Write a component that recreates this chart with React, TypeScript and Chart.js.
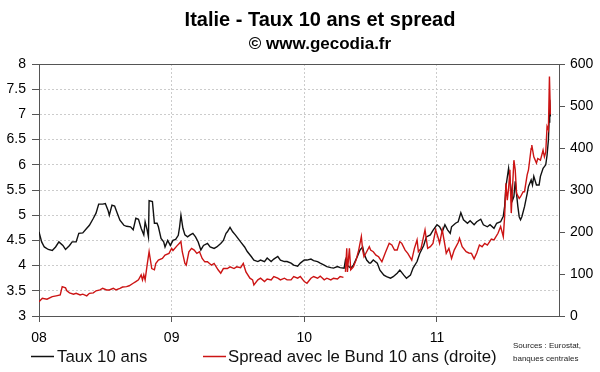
import React, { useEffect, useRef } from 'react';
import { Chart, registerables } from 'chart.js';

Chart.register(...registerables);

const FONT = '"Liberation Sans", Arial, Helvetica, sans-serif';

const titleText = 'Italie - Taux 10 ans et spread';
const subtitleText = '© www.gecodia.fr';
const yearLabels = ['08', '09', '10', '11'];
const legendLabels = ['Taux 10 ans', 'Spread avec le Bund 10 ans (droite)'];
const sourcesLines = ['Sources : Eurostat,', 'banques centrales'];

// time in years since 1 Jan 2008
const tauxDates = [
  0.00, 0.02, 0.04, 0.07, 0.10, 0.125, 0.15, 0.18, 0.20, 0.23,
  0.25, 0.28, 0.30, 0.33, 0.36, 0.38, 0.41, 0.43, 0.45, 0.48,
  0.50, 0.52, 0.53, 0.55, 0.57, 0.59, 0.61, 0.64, 0.66, 0.69,
  0.71, 0.73, 0.75, 0.77, 0.79, 0.80, 0.815, 0.825, 0.83, 0.855,
  0.87, 0.89, 0.90, 0.92, 0.94, 0.95, 0.97, 0.99,
  1.01, 1.03, 1.05, 1.06, 1.07, 1.085, 1.10, 1.12, 1.14, 1.16,
  1.18, 1.20, 1.22, 1.24, 1.27, 1.29, 1.32, 1.34, 1.37, 1.39,
  1.41, 1.42, 1.44, 1.46, 1.48, 1.50, 1.52, 1.55, 1.57, 1.60,
  1.62, 1.65, 1.67, 1.70, 1.72, 1.75, 1.77, 1.80, 1.82, 1.85,
  1.87, 1.90, 1.92, 1.95, 1.97,
  2.00, 2.02, 2.05, 2.07, 2.10, 2.12, 2.15, 2.17, 2.20, 2.22,
  2.25, 2.27, 2.30, 2.31, 2.32, 2.35, 2.37, 2.40, 2.42, 2.44,
  2.45, 2.47, 2.49, 2.50, 2.52, 2.55, 2.57, 2.60, 2.62, 2.65,
  2.67, 2.70, 2.72, 2.75, 2.77, 2.80, 2.82, 2.85, 2.87, 2.90,
  2.92, 2.95, 2.97,
  3.00, 3.02, 3.04, 3.06, 3.08, 3.10, 3.11, 3.14, 3.16, 3.18,
  3.20, 3.23, 3.25, 3.28, 3.30, 3.33, 3.35, 3.38, 3.40, 3.43,
  3.45, 3.48, 3.50, 3.51, 3.52, 3.54, 3.55, 3.57, 3.58, 3.59,
  3.61, 3.62, 3.63, 3.64, 3.66, 3.68, 3.69, 3.71, 3.72, 3.73,
  3.75, 3.77, 3.78, 3.80, 3.82, 3.83, 3.84, 3.845, 3.85, 3.855,
];

const tauxValues = [
  4.67, 4.47, 4.37, 4.32, 4.30, 4.37, 4.47, 4.40, 4.32, 4.40,
  4.47, 4.47, 4.64, 4.65, 4.74, 4.80, 4.94, 5.04, 5.22, 5.22,
  5.23, 5.10, 5.00, 5.20, 5.18, 5.04, 4.90, 4.80, 4.78, 4.77,
  4.71, 4.94, 4.92, 4.74, 4.61, 4.87, 4.71, 4.57, 5.29, 5.27,
  4.84, 4.84, 4.77, 4.54, 4.47, 4.37, 4.50, 4.40,
  4.50, 4.52, 4.60, 4.77, 5.00, 4.74, 4.61, 4.57, 4.61, 4.64,
  4.57, 4.47, 4.31, 4.40, 4.44, 4.37, 4.34, 4.37, 4.44, 4.50,
  4.64, 4.67, 4.76, 4.67, 4.61, 4.54, 4.47, 4.37, 4.28, 4.18,
  4.11, 4.08, 4.11, 4.08, 4.15, 4.08, 4.13, 4.18, 4.11, 4.08,
  4.08, 4.05, 4.01, 3.99, 4.05,
  4.11, 4.11, 4.13, 4.10, 4.08, 4.05, 4.01, 3.98, 3.96, 3.95,
  3.98, 3.96, 3.95, 4.11, 4.01, 3.95, 4.01, 4.18, 4.31, 4.37,
  4.24, 4.11, 4.05, 4.05, 4.11, 4.05, 3.91, 3.81, 3.78, 3.75,
  3.78, 3.85, 3.91, 3.81, 3.75, 3.81, 3.95, 4.08, 4.24, 4.40,
  4.57, 4.61, 4.70,
  4.81, 4.77, 4.67, 4.81, 4.71, 4.64, 4.77, 4.84, 4.87, 5.05,
  4.91, 4.84, 4.89, 4.81, 4.87, 4.92, 4.81, 4.77, 4.81, 4.74,
  4.84, 4.87, 4.98, 5.17, 5.57, 5.93, 5.70, 5.30, 5.37, 5.67,
  5.17, 4.97, 4.91, 4.97, 5.17, 5.43, 5.57, 5.70, 5.60, 5.77,
  5.60, 5.60, 5.77, 5.93, 6.00, 6.19, 6.49, 6.85, 7.29, 6.96,
];

const spreadDates = [
  0.00, 0.025, 0.06, 0.10, 0.13, 0.16, 0.175, 0.20, 0.21, 0.23,
  0.26, 0.28, 0.31, 0.33, 0.36, 0.38, 0.41, 0.43, 0.46, 0.48,
  0.51, 0.53, 0.56, 0.58, 0.61, 0.63, 0.66, 0.68, 0.71, 0.73,
  0.75, 0.77, 0.78, 0.79, 0.80, 0.815, 0.83, 0.85, 0.87, 0.88,
  0.90, 0.93, 0.95, 0.98,
  1.00, 1.01, 1.04, 1.07, 1.08, 1.10, 1.11, 1.13, 1.15, 1.17,
  1.19, 1.21, 1.23, 1.25, 1.27, 1.30, 1.32, 1.35, 1.37, 1.39,
  1.42, 1.44, 1.47, 1.49, 1.52, 1.54, 1.56, 1.59, 1.61, 1.62,
  1.65, 1.67, 1.70, 1.72, 1.75, 1.77, 1.80, 1.82, 1.85, 1.87,
  1.90, 1.92, 1.95, 1.97,
  2.00, 2.02, 2.05, 2.07, 2.10, 2.12, 2.15, 2.17, 2.20, 2.22,
  2.25, 2.27, 2.295, 2.30, 2.31, 2.32, 2.325, 2.34, 2.35, 2.37,
  2.39, 2.41, 2.43, 2.44, 2.45, 2.47, 2.49, 2.50, 2.52, 2.54,
  2.56, 2.585, 2.61, 2.64, 2.66, 2.68, 2.70, 2.72, 2.735, 2.76,
  2.78, 2.81, 2.83, 2.85, 2.86, 2.88, 2.91, 2.93, 2.95, 2.97,
  2.99,
  3.01, 3.02, 3.04, 3.06, 3.07, 3.09, 3.11, 3.13, 3.16, 3.17,
  3.19, 3.22, 3.24, 3.26, 3.28, 3.30, 3.32, 3.34, 3.36, 3.38,
  3.41, 3.43, 3.46, 3.48, 3.50, 3.51, 3.52, 3.53, 3.54, 3.55,
  3.56, 3.57, 3.58, 3.59, 3.60, 3.62, 3.63, 3.65, 3.66, 3.68,
  3.69, 3.71, 3.715, 3.73, 3.75, 3.76, 3.78, 3.80, 3.81, 3.82,
  3.83, 3.84, 3.848, 3.855,
];

const spreadValues = [
  34, 42, 40, 46, 48, 50, 70, 67, 60, 55,
  52, 54, 50, 52, 48, 54, 55, 60, 62, 66,
  62, 62, 66, 62, 66, 69, 70, 72, 78, 82,
  86, 98, 86, 98, 86, 121, 153, 113, 110, 125,
  133, 137, 145, 149,
  161, 156, 167, 177, 153, 125, 121, 153, 161, 157,
  149, 153, 137, 129, 129, 121, 125, 110, 102, 113,
  113, 117, 113, 117, 115, 125, 105, 90, 86, 74,
  86, 90, 82, 88, 86, 94, 90, 86, 90, 86,
  86, 94, 90, 94,
  82, 78, 90, 94, 90, 95, 86, 90, 86, 90,
  88, 94, 92, null, 105, 161, 105, 161, 110, 117,
  133, 157, 189, 157, 141, 153, 165, 157, 153, 145,
  141, 129, 150, 173, 169, 157, 157, 177, 173, 157,
  149, 133, 161, 181, 153, 161, 205, 161, 165, 173,
  205,
  185, 173, 205, 169, 149, 161, 137, 157, 175, 185,
  165, 153, 150, 149, 136, 150, 169, 165, 173, 169,
  183, 181, 197, 213, 189, 236, 316, 276, 304, 348,
  245, 308, 371, 348, 292, 280, 284, 296, 296, 336,
  348, 399, 407, 379, 364, 375, 371, 395, 379, 390,
  451, 443, 570, 480,
];

const BLACK = '#111111';
const RED = '#cc1414';
const GRID = '#cccccc';
const AXIS = '#555555';

const overlayPlugin = {
  id: 'overlay',
  afterDraw(chart: any) {
    const ctx = chart.ctx;
    const { left, right, top } = chart.chartArea;
    ctx.save();
    // top frame line
    ctx.strokeStyle = AXIS;
    ctx.lineWidth = 1;
    ctx.beginPath();
    ctx.moveTo(left, Math.round(top) + 0.5);
    ctx.lineTo(right, Math.round(top) + 0.5);
    ctx.stroke();

    // titles
    ctx.fillStyle = '#000';
    ctx.textAlign = 'center';
    ctx.textBaseline = 'alphabetic';
    ctx.font = `bold 20px ${FONT}`;
    ctx.fillText(titleText, 320, 26);
    ctx.font = `bold 17px ${FONT}`;
    ctx.fillText(subtitleText, 320, 49);

    // legend
    ctx.lineWidth = 1.5;
    ctx.strokeStyle = BLACK;
    ctx.beginPath();
    ctx.moveTo(31, 356.5);
    ctx.lineTo(54, 356.5);
    ctx.stroke();
    ctx.strokeStyle = RED;
    ctx.beginPath();
    ctx.moveTo(203, 356.5);
    ctx.lineTo(226, 356.5);
    ctx.stroke();
    ctx.textAlign = 'left';
    ctx.textBaseline = 'middle';
    ctx.font = `16.8px ${FONT}`;
    ctx.fillStyle = '#111';
    ctx.fillText(legendLabels[0], 57, 357);
    ctx.fillText(legendLabels[1], 228, 357);

    // sources
    ctx.font = `8px "Liberation Sans Narrow", ${FONT}`;
    ctx.fillStyle = '#222';
    ctx.fillText(sourcesLines[0], 513, 346);
    ctx.fillText(sourcesLines[1], 513, 359);
    ctx.restore();
  },
};

export default function App() {
  const canvasRef = useRef<HTMLCanvasElement | null>(null);

  useEffect(() => {
    document.body.style.margin = '0';
    const canvas = canvasRef.current;
    if (!canvas) return;

    const tauxData = tauxDates.map((x, i) => ({ x, y: tauxValues[i] }));
    const spreadData = spreadDates.map((x, i) => ({ x, y: spreadValues[i] }));

    const chart = new Chart(canvas, {
      type: 'line',
      data: {
        datasets: [
          {
            label: legendLabels[1],
            data: spreadData as any,
            yAxisID: 'y2',
            borderColor: RED,
            borderWidth: 1.4,
            pointRadius: 0,
            tension: 0,
            spanGaps: false,
            order: 0,
          },
          {
            label: legendLabels[0],
            data: tauxData as any,
            yAxisID: 'y',
            borderColor: BLACK,
            borderWidth: 1.4,
            pointRadius: 0,
            tension: 0,
            order: 1,
          },
        ],
      },
      options: {
        animation: false,
        responsive: false,
        devicePixelRatio: 1,
        layout: { padding: { top: 64, left: 0, right: 0, bottom: 0 } },
        plugins: {
          legend: { display: false },
          tooltip: { enabled: false },
          title: { display: false },
        },
        scales: {
          x: {
            type: 'linear',
            position: 'bottom',
            min: 0,
            max: 3.92,
            ticks: {
              stepSize: 1,
              includeBounds: false,
              autoSkip: false,
              maxRotation: 0,
              padding: 8,
              color: '#000',
              font: { family: FONT, size: 14 },
              callback: (v: any) => {
                const n = Number(v);
                return Number.isInteger(n) ? yearLabels[n] ?? '' : '';
              },
            },
            grid: {
              color: (c: any) => (c.tick && c.tick.value === 0 ? 'rgba(0,0,0,0)' : GRID),
              tickLength: 6,
              tickColor: AXIS,
            },
            border: { display: true, color: AXIS, width: 1, dash: [2, 2] },
            afterFit: (s: any) => {
              s.height = 56;
            },
          },
          y: {
            type: 'linear',
            position: 'left',
            min: 3,
            max: 8,
            ticks: {
              stepSize: 0.5,
              padding: 6,
              color: '#000',
              font: { family: FONT, size: 14 },
              callback: (v: any) => String(Number(v)),
            },
            grid: {
              color: (c: any) =>
                c.tick && (c.tick.value === 3 || c.tick.value === 8) ? 'rgba(0,0,0,0)' : GRID,
              tickLength: 7,
              tickColor: AXIS,
            },
            border: { display: true, color: AXIS, width: 1, dash: [2, 2] },
            afterFit: (s: any) => {
              s.width = 39;
            },
          },
          y2: {
            type: 'linear',
            position: 'right',
            min: 0,
            max: 600,
            ticks: {
              stepSize: 100,
              padding: 5,
              color: '#000',
              font: { family: FONT, size: 14 },
            },
            grid: {
              drawOnChartArea: false,
              tickLength: 6,
              tickColor: AXIS,
            },
            border: { display: true, color: AXIS, width: 1 },
            afterFit: (s: any) => {
              s.width = 41;
            },
          },
        },
      },
      plugins: [overlayPlugin],
    });

    return () => {
      chart.destroy();
    };
  }, []);

  return (
    <div style={{ width: 600, height: 372, position: 'relative', background: '#fff' }}>
      <canvas ref={canvasRef} width={600} height={372} style={{ width: 600, height: 372, display: 'block' }} />
    </div>
  );
}
